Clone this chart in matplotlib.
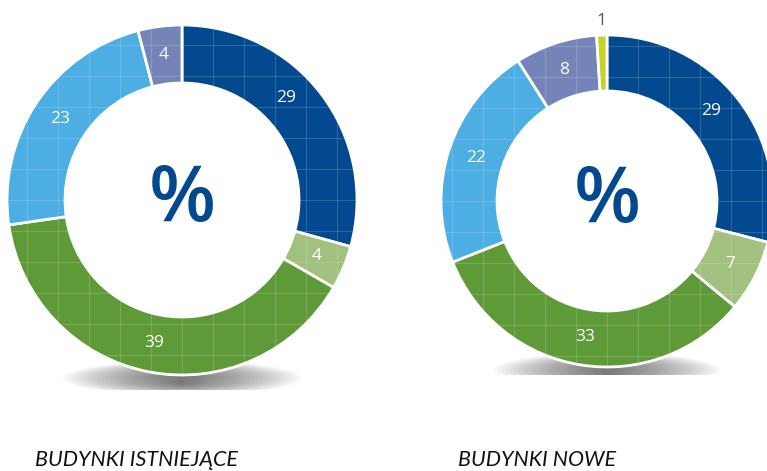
import numpy as np
import matplotlib
matplotlib.use("Agg")
import matplotlib.pyplot as plt
from matplotlib.patches import Ellipse, Rectangle

# ---- data ----
left_title = "BUDYNKI ISTNIEJĄCE"
right_title = "BUDYNKI NOWE"
left_values = [29, 4, 39, 23, 4]
left_colors = ["#03498f", "#a2c07f", "#5f9a39", "#4daee3", "#7584b8"]
right_values = [29, 7, 33, 22, 8, 1]
right_colors = ["#03498f", "#a2c07f", "#5f9a39", "#4daee3", "#7584b8", "#c9d126"]
center_symbol = "%"

W, H = 767, 471
fig = plt.figure(figsize=(W / 100, H / 100), dpi=100)
ax = fig.add_axes([0, 0, 1, 1])


def Y(y):
    return H - y


def donut(cx, cy, R, r, values, colors, shadow_cut, outside_last=False, first_shift=0.0):
    # soft shadow under the ring, cut flat at the bottom
    clip = Rectangle((cx - R, Y(shadow_cut)), 2 * R, 60, transform=ax.transData)
    n = 28
    for k in range(n):
        f = 1 - k / n
        e = Ellipse((cx, Y(cy + R + 3)), R * 1.36 * f, 34 * (0.35 + 0.65 * f),
                    facecolor="#1a1a1a", edgecolor="none", alpha=0.028, zorder=0)
        ax.add_patch(e)
        e.set_clip_path(clip)
    wedges, texts = ax.pie(values, colors=colors, startangle=90, counterclock=False,
                           center=(cx, Y(cy)), radius=R, labels=[str(v) for v in values],
                           labeldistance=(1 + r / R) / 2,
                           wedgeprops=dict(width=R - r, edgecolor="white", linewidth=2),
                           textprops=dict(color="white", fontsize=12.5,
                                          family=["Open Sans", "DejaVu Sans"]))
    for t in texts:
        t.set_ha("center")
        t.set_va("center")
    if first_shift:
        w = wedges[0]
        ang = np.deg2rad((w.theta1 + w.theta2) / 2 + first_shift)
        rr = (R + r) / 2
        texts[0].set_position((cx + rr * np.cos(ang), Y(cy) + rr * np.sin(ang)))
    if outside_last:
        w = wedges[-1]
        ang = np.deg2rad((w.theta1 + w.theta2) / 2)
        texts[-1].set_position((cx + 1.085 * R * np.cos(ang), Y(cy) + 1.085 * R * np.sin(ang)))
        texts[-1].set_color("#555555")
    # faint grid texture on the ring
    step = 31
    for w in wedges:
        for gx in np.arange(cx - 6 * step, cx + 6 * step + 1, step):
            l = ax.axvline(gx, color="white", lw=0.8, alpha=0.16, zorder=3)
            l.set_clip_path(w)
        for gy in np.arange(Y(cy) - 6 * step, Y(cy) + 6 * step + 1, step):
            l = ax.axhline(gy, color="white", lw=0.8, alpha=0.16, zorder=3)
            l.set_clip_path(w)
    ax.text(cx, Y(cy + 1), center_symbol, color="#03498f", fontsize=56, fontweight="semibold",
            ha="center", va="center", family=["Open Sans", "DejaVu Sans"])
    return wedges


donut(182, 200, 175, 117, left_values, left_colors, shadow_cut=390, first_shift=7)
donut(607, 201, 166, 110, right_values, right_colors, shadow_cut=375, outside_last=True,
      first_shift=3)

tfont = dict(fontsize=15.5, style="italic", color="#111111", family=["Lato", "DejaVu Sans"],
             va="baseline", ha="left")
ax.text(35, Y(466), left_title, **tfont)
ax.text(458, Y(466), right_title, **tfont)

ax.set_xlim(0, W)
ax.set_ylim(0, H)
ax.set_aspect("equal")
ax.axis("off")
fig.savefig("out.png", dpi=100)
